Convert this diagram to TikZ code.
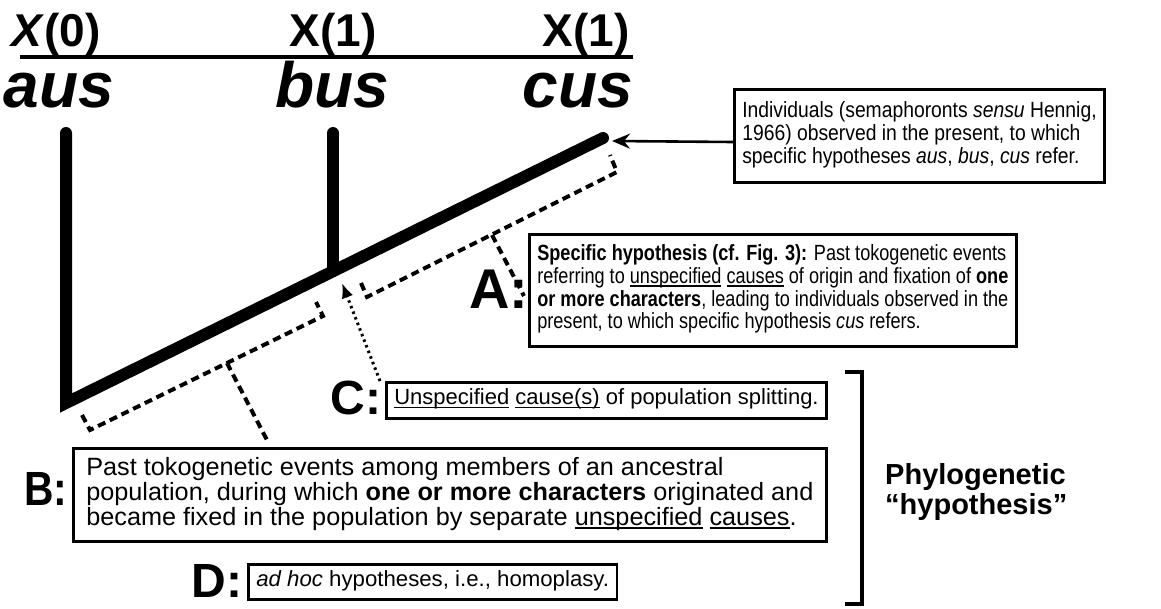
\documentclass[tikz,border=0pt]{standalone}
\usepackage{fontspec}
\setmainfont{Liberation Sans}
\usetikzlibrary{arrows.meta,calc}
\newcommand\bxfont{\fontsize{22}{22.6}\selectfont}
\newcommand\bxbigfont{\fontsize{25}{22.6}\selectfont}
\newsavebox\ulbox
\newcommand\ulx[1]{\sbox\ulbox{#1}\rlap{\rule[-3.2pt]{\wd\ulbox}{1.3pt}}\usebox\ulbox}
\newcommand\hsc[2]{\scalebox{#1}[1]{\begin{tabular}{@{}l@{}}#2\end{tabular}}}
\begin{document}
\begin{tikzpicture}[x=1pt,y=-1pt,
  branch/.style={line width=12pt,line cap=round,line join=miter},
  txtbox/.style={draw,line width=2.6pt,inner xsep=8pt,inner ysep=0pt,align=left,font=\bxfont,anchor=north west},
  lbl/.style={font=\bfseries\fontsize{48}{48}\selectfont,inner sep=0pt},
  xlab/.style={font=\bfseries\fontsize{46}{46}\selectfont,inner sep=0pt,anchor=base},
  taxon/.style={font=\bfseries\itshape\fontsize{64}{64}\selectfont,inner sep=0pt,anchor=base},
  dashbr/.style={line width=4pt,dash pattern=on 8pt off 5pt},
  dotarr/.style={line width=3pt,dash pattern=on 2.5pt off 3.5pt,-{Latex[length=15pt,width=12pt]}},
  pointer/.style={line width=2.6pt,-{Stealth[length=18pt,width=15pt,inset=6pt]}},
  brk/.style={line width=3.5pt}
]
\useasboundingbox (0,0) rectangle (1161,608);

% header
\node[xlab] (x0) at (56,46) {\textit{X}(0)};
\node[xlab] (x1) at (333,46) {X(1)};
\node[xlab] (x2) at (586,46) {X(1)};
\coordinate (hl) at (20,57);
\coordinate (hr) at (633,57);
\draw[line width=3.5pt] (hl) -- (hr);
\node[taxon] (aus) at (59,107) {aus};
\node[taxon] (bus) at (332,107) {bus};
\node[taxon] (cus) at (578,107) {cus};

% tree
\coordinate (root) at (66,403);
\coordinate (ta) at (66,133);
\coordinate (tb) at (333,133);
\coordinate (tc) at (603,138);
\coordinate (jb) at (333,271);
\draw[branch] (ta) -- (root) -- (tc);
\draw[branch] (tb) -- (jb);

% boxes
\node[txtbox,minimum height=93pt] (ind) at (733,88)
 {\hsc{0.878}{Individuals (semaphoronts \textit{sensu} Hennig,\\
  1966) observed in the present, to which\\
  specific hypotheses \textit{aus}, \textit{bus}, \textit{cus} refer.}};
\node[txtbox,minimum height=112pt] (boxA) at (528,233)
 {\hsc{0.823}{\textbf{Specific hypothesis (cf. Fig. 3):} Past tokogenetic events\\
  referring to \ulx{unspecified} \ulx{causes} of origin and fixation of \textbf{one}\\
  \textbf{or more characters}, leading to individuals observed in the\\
  present, to which specific hypothesis \textit{cus} refers.}};
\node[txtbox,minimum height=36pt] (boxC) at (385,381)
 {\hsc{1.0}{\ulx{Unspecified} \ulx{cause(s)} of population splitting.}};
\node[txtbox,minimum height=93pt,inner xsep=13pt,font=\bxbigfont] (boxB) at (72,447)
 {\hsc{1.01}{Past tokogenetic events among members of an ancestral\\
  population, during which \textbf{one or more characters} originated and\\
  became fixed in the population by separate \ulx{unspecified} \ulx{causes}.}};
\node[txtbox,minimum height=35pt] (boxD) at (247,563)
 {\hsc{1.01}{\textit{ad hoc} hypotheses, i.e., homoplasy.}};

% labels
\node[lbl,font=\bfseries\fontsize{56}{56}\selectfont] (labA) at (499,289) {A:};
\node[lbl] (labB) at (46,489) {\scalebox{0.85}[1]{B:}};
\node[lbl] (labC) at (356,398) {C:};
\node[lbl] (labD) at (217,581) {D:};

% arrow to cus tip
\coordinate (indpt) at ($(ind.north west)+(0,54)$);
\coordinate (cusend) at (612,141);
\draw[pointer] (indpt) -- (cusend);

% bracket A
\coordinate (a1) at (361,283);
\coordinate (a2) at (367,297);
\coordinate (a3) at (617,172);
\coordinate (a4) at (610,155);
\coordinate (am) at (492,235);
\coordinate (ae) at (524,296);
\draw[dashbr] (a1) -- (a2) -- (a3) -- (a4);
\draw[dashbr] (am) -- (ae);

% bracket B
\coordinate (b1) at (82,415);
\coordinate (b2) at (90,430);
\coordinate (b3) at (323,316);
\coordinate (b4) at (316,302);
\coordinate (bm) at (227,363);
\coordinate (be) at (268,442);
\draw[dashbr] (b1) -- (b2) -- (b3) -- (b4);
\draw[dashbr] (bm) -- (be);

% C pointer
\coordinate (cs) at (380,381);
\coordinate (ct) at (342,283);
\draw[dotarr] (cs) -- (ct);

% right bracket
\coordinate (r1) at (845,372);
\coordinate (r2) at (862,372);
\coordinate (r3) at (862,604);
\coordinate (r4) at (845,604);
\draw[brk] (r1) -- (r2) -- (r3) -- (r4);
\node[font=\bfseries\fontsize{29}{30}\selectfont,align=left,anchor=north west,inner sep=0pt] (phy) at (885,463)
 {Phylogenetic\\``hypothesis''};
\end{tikzpicture}
\end{document}
